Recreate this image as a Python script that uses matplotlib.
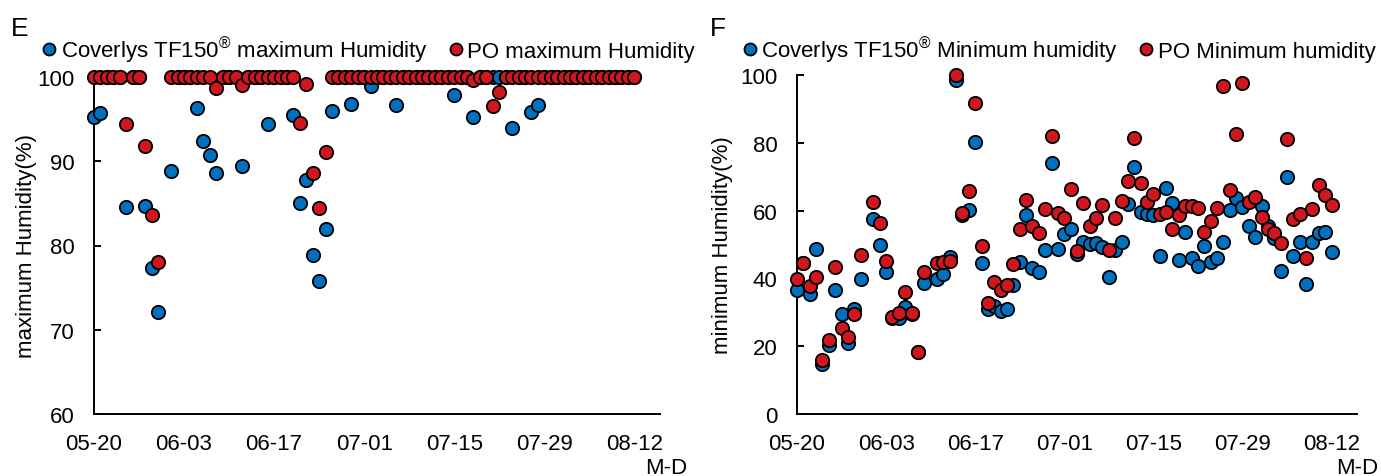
import numpy as np
import matplotlib
matplotlib.use('Agg')
import matplotlib.pyplot as plt

# Font simile ad Arial
plt.rcParams['font.family'] = ['Liberation Sans', 'DejaVu Sans']
plt.rcParams['mathtext.fontset'] = 'custom'
plt.rcParams['mathtext.rm'] = 'Liberation Sans'

nan = np.nan

# Giorni dal 05-20 (0 = 05-20, 84 = 08-12)
days = list(range(85))
tick_days = [0, 14, 28, 42, 56, 70, 84]
tick_labels = ['05-20', '06-03', '06-17', '07-01', '07-15', '07-29', '08-12']

# Umidita massima (%)
coverlys_max = [95.3, 95.7, 100, 100, 100, 84.6, 100, 100, 84.7, 77.3,
                72.1, nan, 88.8, 100, 100, 100, 96.3, 92.4, 90.7, 88.6,
                100, 100, 100, 89.4, 100, 100, 100, 94.4, 100, 100,
                100, 95.5, 85.0, 87.8, 78.9, 75.8, 82.0, 96.0, 100, 100,
                96.8, 100, 100, 98.9, 100, 100, 100, 96.7, 100, 100,
                100, 100, 100, 100, 100, 100, 97.9, 100, 100, 95.2,
                100, 100, 100, 100, 100, 94.0, 100, 100, 95.8, 96.7,
                100, 100, 100, 100, 100, 100, 100, 100, 100, 100,
                100, 100, 100, 100, 100]
po_max = [100, 100, 100, 100, 100, 94.4, 100, 100, 91.8, 83.6,
          78.1, nan, 100, 100, 100, 100, 100, 100, 100, 98.7,
          100, 100, 100, 99.0, 100, 100, 100, 100, 100, 100,
          100, 100, 94.5, 99.2, 88.6, 84.5, 91.1, 100, 100, 100,
          100, 100, 100, 100, 100, 100, 100, 100, 100, 100,
          100, 100, 100, 100, 100, 100, 100, 100, 100, 99.6,
          100, 100, 96.6, 98.2, 100, 100, 100, 100, 100, 100,
          100, 100, 100, 100, 100, 100, 100, 100, 100, 100,
          100, 100, 100, 100, 100]

# Umidita minima (%)
coverlys_min = [36.7, 44.4, 35.3, 48.7, 14.7, 20.4, 36.7, 29.6, 20.9, 31.0,
                39.8, nan, 57.5, 49.9, 41.8, 28.3, 28.2, 31.5, 29.5, 18.2,
                38.5, nan, 39.8, 41.3, 46.2, 98.6, 58.8, 60.3, 80.1, 44.4,
                30.9, 32.0, 30.5, 31.1, 38.2, 44.8, 58.7, 43.0, 41.8, 48.5,
                74.0, 48.7, 53.1, 54.6, 47.2, 50.6, 50.1, 50.3, 49.2, 40.3,
                48.5, 50.6, 61.9, 72.9, 59.5, 59.0, 58.8, 46.6, 66.6, 62.3,
                45.3, 53.6, 46.1, 43.6, 49.5, 44.7, 45.9, 50.6, 60.3, 63.6,
                61.1, 55.5, 52.1, 61.3, 55.5, 51.8, 42.3, 70.0, 46.5, 50.8,
                38.3, 50.8, 53.3, 53.7, 47.7]
po_min = [39.8, 44.4, 37.9, 40.3, 16.0, 21.9, 43.4, 25.5, 22.8, 29.5,
          46.9, nan, 62.6, 56.3, 45.2, 28.6, 29.8, 35.9, 29.7, 18.3,
          41.8, nan, 44.5, 44.7, 45.2, 100, 59.3, 65.7, 91.6, 49.5,
          32.8, 39.0, 36.5, 38.2, 44.2, 54.5, 63.2, 55.4, 53.4, 60.5,
          81.9, 59.3, 57.8, 66.4, 48.2, 62.2, 55.5, 57.7, 61.7, 48.5,
          57.7, 62.9, 68.7, 81.5, 68.2, 62.5, 64.9, 58.9, 59.7, 54.5,
          58.6, 61.4, 61.3, 60.7, 53.6, 56.9, 60.7, 96.7, 66.2, 82.6,
          97.6, 62.5, 64.0, 58.1, 54.5, 53.4, 50.3, 81.1, 57.5, 59.0,
          45.9, 60.4, 67.6, 64.5, 61.7]

blue = '#0070C0'
red = '#D0161E'

fig = plt.figure(figsize=(13.81, 4.77), dpi=100)
ax1 = fig.add_axes([94 / 1381, 1 - 415 / 477, 566 / 1381, 337 / 477])
ax2 = fig.add_axes([797 / 1381, 1 - 415 / 477, 560 / 1381, 339 / 477])


def draw_panel(ax, y_blue, y_red, lab_blue, lab_red, ylabel, ylim, yticks, lab_x, leg_x, md_x):
    ax.plot(days, y_blue, 'o', color=blue, mec='black', mew=1.3, ms=9.6,
            label=lab_blue, clip_on=False, zorder=3)
    ax.plot(days, y_red, 'o', color=red, mec='black', mew=1.3, ms=9.6,
            label=lab_red, clip_on=False, zorder=4)
    ax.set_xlim(0, 88)
    ax.set_ylim(*ylim)
    ax.set_yticks(yticks)
    ax.set_xticks(tick_days)
    ax.set_xticklabels(tick_labels)
    for s in ['top', 'right']:
        ax.spines[s].set_visible(False)
    for s in ['left', 'bottom']:
        ax.spines[s].set_linewidth(1.4)
    ax.tick_params(axis='y', direction='in', length=5, width=1.4, pad=14, labelsize=16)
    ax.tick_params(axis='x', length=0, pad=14, labelsize=16)
    ax.set_ylabel(ylabel, fontsize=16)
    ax.yaxis.set_label_coords(lab_x, 0.5)
    ax.text(md_x, -0.158, 'M-D', transform=ax.transAxes, ha='left', va='center', fontsize=16)
    ax.legend(loc='upper left', bbox_to_anchor=(leg_x, 0.925), bbox_transform=fig.transFigure,
              ncol=2, frameon=False, fontsize=16, handlelength=0.6, handletextpad=0.2,
              columnspacing=1.0, borderpad=0, borderaxespad=0, markerscale=0.9)


draw_panel(ax1, coverlys_max, po_max,
           'Coverlys TF150$^{\\mathrm{®}}$ maximum Humidity', 'PO maximum Humidity',
           'maximum Humidity(%)', (60, 100), [60, 70, 80, 90, 100], -0.1, 0.031, 0.9735)
draw_panel(ax2, coverlys_min, po_min,
           'Coverlys TF150$^{\\mathrm{®}}$ Minimum humidity', 'PO Minimum humidity',
           'minimum Humidity(%)', (0, 100), [0, 20, 40, 60, 80, 100], -0.115, 0.538, 0.963)

# Lettere dei pannelli
fig.text(11 / 1381, 1 - 29 / 477, 'E', va='center', ha='left', fontsize=19)
fig.text(710 / 1381, 1 - 29 / 477, 'F', va='center', ha='left', fontsize=19)

fig.savefig('out.png', dpi=100)
